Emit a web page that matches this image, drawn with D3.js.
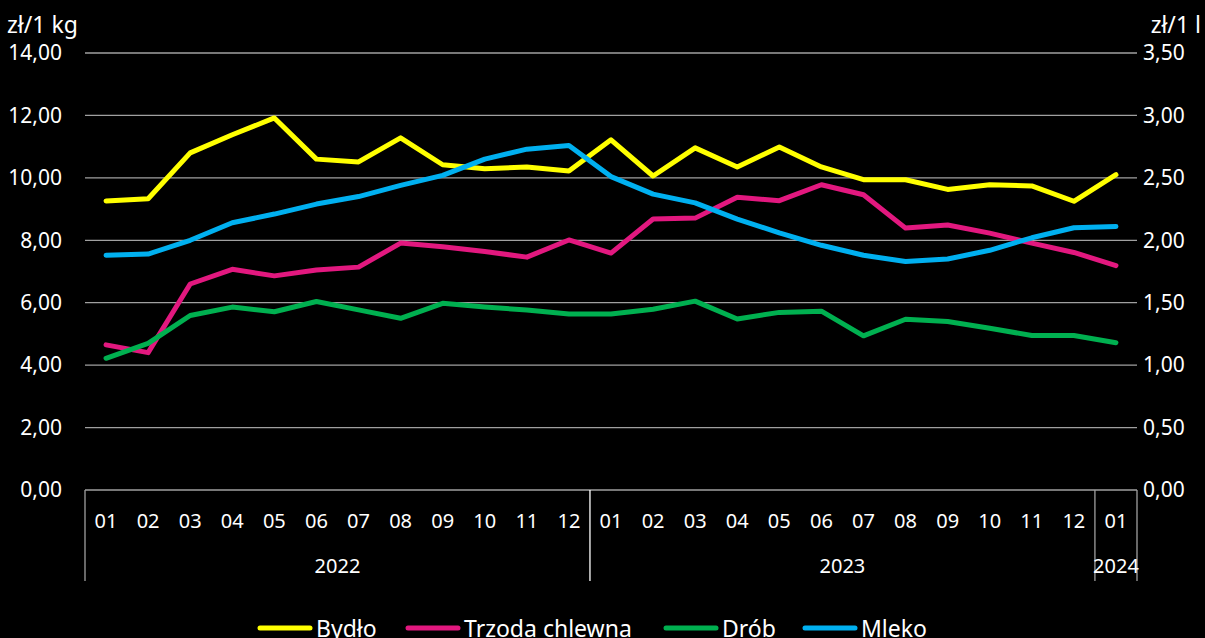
<!DOCTYPE html>
<html>
<head>
<meta charset="utf-8">
<script src="https://cdn.jsdelivr.net/npm/d3@7"></script>
<style>
  body { margin: 0; background: #000; }
  svg text { font-family: "Noto Sans", sans-serif; fill: #fff; }
</style>
</head>
<body>
<div id="chart"></div>
<script>
let w = 1205;
let h = 638;

// okresy: rok i miesiąc
const years  = ['2022','2022','2022','2022','2022','2022','2022','2022','2022','2022','2022','2022',
                '2023','2023','2023','2023','2023','2023','2023','2023','2023','2023','2023','2023',
                '2024'];
const months = ['01','02','03','04','05','06','07','08','09','10','11','12',
                '01','02','03','04','05','06','07','08','09','10','11','12',
                '01'];

// zł/1 kg
const bydlo  = [9.26, 9.33, 10.80, 11.38, 11.92, 10.60, 10.51, 11.28, 10.42, 10.29, 10.35, 10.22,
                11.22, 10.06, 10.96, 10.35, 10.99, 10.35, 9.94, 9.94, 9.63, 9.78, 9.74, 9.25, 10.10];
const trzoda = [4.65, 4.40, 6.60, 7.07, 6.86, 7.05, 7.14, 7.91, 7.79, 7.64, 7.46, 8.01,
                7.59, 8.68, 8.71, 9.38, 9.27, 9.78, 9.46, 8.39, 8.49, 8.23, 7.91, 7.61, 7.19];
const drob   = [4.22, 4.70, 5.59, 5.86, 5.71, 6.04, 5.77, 5.50, 5.98, 5.86, 5.77, 5.64,
                5.64, 5.79, 6.05, 5.48, 5.69, 5.73, 4.94, 5.47, 5.40, 5.18, 4.95, 4.95, 4.72];
// zł/1 l
const mleko  = [1.88, 1.89, 2.00, 2.14, 2.21, 2.29, 2.35, 2.44, 2.52, 2.65, 2.73, 2.76,
                2.51, 2.37, 2.30, 2.17, 2.06, 1.96, 1.88, 1.83, 1.85, 1.92, 2.02, 2.10, 2.11];

const leftTicks  = [0, 2, 4, 6, 8, 10, 12, 14];
const rightTicks = [0, 0.5, 1, 1.5, 2, 2.5, 3, 3.5];

const series = [
  {name: 'Bydło',          values: bydlo,  color: '#ffff00', axis: 'left'},
  {name: 'Trzoda chlewna', values: trzoda, color: '#e2187f', axis: 'left'},
  {name: 'Drób',           values: drob,   color: '#00b050', axis: 'left'},
  {name: 'Mleko',          values: mleko,  color: '#00b0f0', axis: 'right'}
];

const plX0 = 85, plX1 = 1137, plY0 = 490, plY1 = 53;
const fmt = d3.formatLocale({decimal: ',', thousands: ' ', grouping: [3], currency: ['', ' zł']}).format('.2f');

let svg = d3.select('#chart')
  .append('svg')
  .attr('width', w)
  .attr('height', h);

let Xscale = d3.scaleBand()
  .domain(d3.range(months.length))
  .range([plX0, plX1]);
let cx = i => Xscale(i) + Xscale.bandwidth() / 2;

let Yleft = d3.scaleLinear().domain([0, 14]).range([plY0, plY1]);
let Yright = d3.scaleLinear().domain([0, 3.5]).range([plY0, plY1]);

// siatka
svg.append('g')
  .selectAll('line')
  .data(leftTicks.filter(d => d > 0))
  .enter()
  .append('line')
  .attr('x1', plX0)
  .attr('x2', plX1)
  .attr('y1', d => Yleft(d))
  .attr('y2', d => Yleft(d))
  .attr('stroke', '#a0a0a0')
  .attr('stroke-width', 1.3);

// osie Y
const yAxisL = d3.axisLeft(Yleft).tickValues(leftTicks).tickFormat(fmt).tickSize(0).tickPadding(0);
svg.append('g')
  .attr('transform', 'translate(62,0)')
  .call(yAxisL)
  .call(g => g.select('.domain').remove())
  .selectAll('text')
  .style('font-size', '21px')
  .attr('fill', '#fff');

const yAxisR = d3.axisRight(Yright).tickValues(rightTicks).tickFormat(fmt).tickSize(0).tickPadding(0);
svg.append('g')
  .attr('transform', 'translate(1143,0)')
  .call(yAxisR)
  .call(g => g.select('.domain').remove())
  .selectAll('text')
  .style('font-size', '21px')
  .attr('fill', '#fff');

svg.append('text').attr('x', 7).attr('y', 33).style('font-size', '23px').text('zł/1 kg');
svg.append('text').attr('x', 1201).attr('y', 33).attr('text-anchor', 'end').style('font-size', '23px').text('zł/1 l');

// oś X
svg.append('line')
  .attr('x1', plX0).attr('x2', plX1)
  .attr('y1', plY0).attr('y2', plY0)
  .attr('stroke', '#a0a0a0').attr('stroke-width', 1.3);

svg.append('g')
  .selectAll('text')
  .data(months)
  .enter()
  .append('text')
  .attr('x', (d, i) => cx(i))
  .attr('y', 528)
  .attr('text-anchor', 'middle')
  .style('font-size', '20px')
  .text(d => d);

// grupy lat
let groups = [];
years.forEach((y, i) => {
  let last = groups[groups.length - 1];
  if (last && last.year === y) last.end = i;
  else groups.push({year: y, start: i, end: i});
});

let seps = [0].concat(groups.map(g => g.end + 1));
svg.append('g')
  .selectAll('line')
  .data(seps)
  .enter()
  .append('line')
  .attr('x1', d => d < months.length ? Xscale(d) : plX1)
  .attr('x2', d => d < months.length ? Xscale(d) : plX1)
  .attr('y1', plY0)
  .attr('y2', 581)
  .attr('stroke', (d, i) => i === 1 ? '#ffffff' : '#a0a0a0')
  .attr('stroke-width', 1.3);

svg.append('g')
  .selectAll('text')
  .data(groups)
  .enter()
  .append('text')
  .attr('x', g => (Xscale(g.start) + Xscale(g.end) + Xscale.bandwidth()) / 2)
  .attr('y', 573)
  .attr('text-anchor', 'middle')
  .style('font-size', '20px')
  .text(g => g.year);

// linie
series.forEach(s => {
  let ys = s.axis === 'left' ? Yleft : Yright;
  let line = d3.line().x((d, i) => cx(i)).y(d => ys(d));
  svg.append('path')
    .datum(s.values)
    .attr('d', line)
    .attr('fill', 'none')
    .attr('stroke', s.color)
    .attr('stroke-width', 5)
    .attr('stroke-linejoin', 'round')
    .attr('stroke-linecap', 'round');
});

// legenda (w oryginale ucięta u dołu)
const legendX = [258, 406, 664, 803];
let leg = svg.append('g');
series.forEach((s, i) => {
  let g = leg.append('g').attr('transform', 'translate(' + legendX[i] + ',628)');
  g.append('line').attr('x1', 2).attr('x2', 52).attr('y1', 0).attr('y2', 0)
    .attr('stroke', s.color).attr('stroke-width', 5).attr('stroke-linecap', 'round');
  g.append('text').attr('x', 58).attr('y', 9).style('font-size', '23px').text(s.name);
});
</script>
</body>
</html>
